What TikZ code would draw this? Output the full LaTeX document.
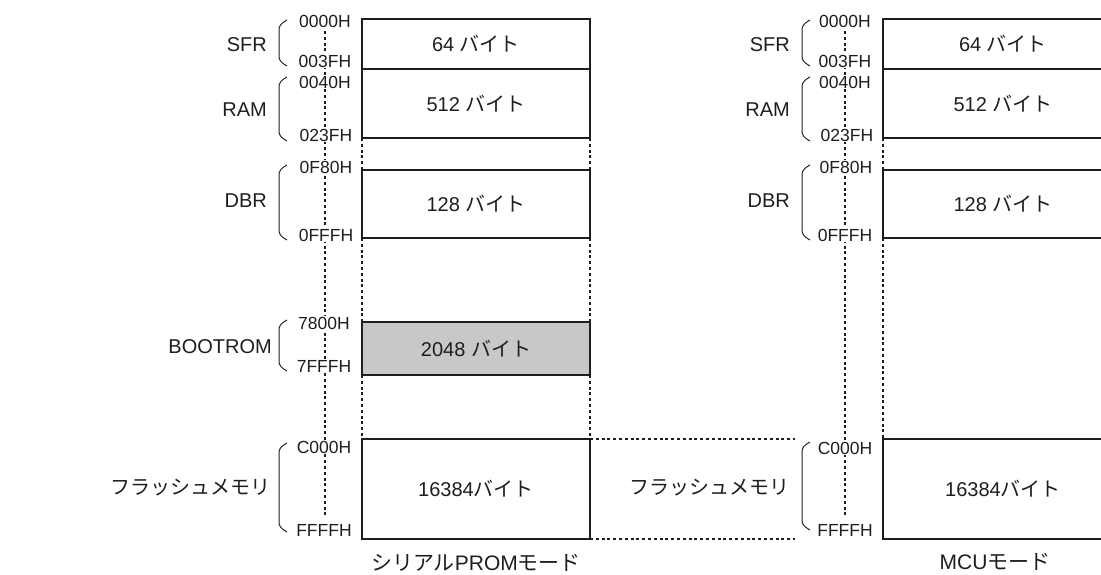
\documentclass[tikz,border=0pt]{standalone}
\usepackage{fontspec}
\setmainfont{Liberation Sans}
\newfontfamily\jp{Noto Sans CJK JP}
\definecolor{bootgray}{RGB}{200,200,202}
\definecolor{ink}{RGB}{30,30,30}
\newcommand\membrace[3]{\draw[bracestyle] (#1+8,#2) .. controls (#1+1,#2+4) and (#1,#2+6) .. (#1,#2+11) -- (#1,#3-11) .. controls (#1,#3-6) and (#1+1,#3-4) .. (#1+8,#3);}
\begin{document}
\begin{tikzpicture}[x=1pt,y=-1pt,
  membox/.style={draw=ink, line width=1.3pt, outer sep=0pt, minimum width=#1, inner sep=0pt, font=\fontsize{20}{22}\selectfont, text=ink},
  membox/.default=228pt,
  addr/.style={fill=white, inner sep=0.6pt, font=\fontsize{17.5}{18}\selectfont, text=ink},
  area/.style={anchor=east, inner sep=0pt, font=\fontsize{20}{22}\selectfont, text=ink},
  dotline/.style={draw=ink, line width=1.5pt, dash pattern=on 3pt off 2.8pt},
  bracestyle/.style={draw=ink, line width=1pt},
  caption/.style={font=\fontsize{21}{22}\selectfont, text=ink}]
\useasboundingbox (0,0) rectangle (1101,574);

% address dotted lines (behind labels)
\coordinate (aL1) at (325,31); \coordinate (aL2) at (325,516);
\coordinate (aR1) at (845,31); \coordinate (aR2) at (845,516);
\draw[dotline] (aL1) -- (aL2);
\draw[dotline] (aR1) -- (aR2);

% ---- left column: serial PROM mode ----
\node[membox, minimum height=50pt] (sfrL) at (476,44) {64 {\jp バイト}};
\node[membox, minimum height=69pt] (ramL) at (476,103.5) {512 {\jp バイト}};
\node[membox, minimum height=68pt] (dbrL) at (476,204) {128 {\jp バイト}};
\node[membox, minimum height=53pt, fill=bootgray] (bootL) at (476,348.5) {2048 {\jp バイト}};
\node[membox, minimum height=100pt] (flashL) at (476,489) {16384{\jp バイト}};

\draw[dotline] (ramL.south west) -- (dbrL.north west);
\draw[dotline] (ramL.south east) -- (dbrL.north east);
\draw[dotline] (dbrL.south west) -- (bootL.north west);
\draw[dotline] (dbrL.south east) -- (bootL.north east);
\draw[dotline] (bootL.south west) -- (flashL.north west);
\draw[dotline] (bootL.south east) -- (flashL.north east);

\node[addr] (l0000) at (325,21) {0000H};
\node[addr] (l003F) at (325,61) {003FH};
\node[addr] (l0040) at (325,82) {0040H};
\node[addr] (l023F) at (326,135) {023FH};
\node[addr] (l0F80) at (326,167) {0F80H};
\node[addr] (l0FFF) at (326,235) {0FFFH};
\node[addr] (l7800) at (324,323) {7800H};
\node[addr] (l7FFF) at (324,366) {7FFFH};
\node[addr] (lC000) at (324,447) {C000H};
\node[addr] (lFFFF) at (324,530) {FFFFH};

\membrace{279}{20}{66}
\membrace{279}{77}{141}
\membrace{279}{165}{240}
\membrace{279}{320}{371}
\membrace{279}{443}{532}

\node[area] (sfrLt) at (267,45) {SFR};
\node[area] (ramLt) at (267,110) {RAM};
\node[area] (dbrLt) at (267,201) {DBR};
\node[area] (bootLt) at (272,347) {BOOTROM};
\node[area] (flashLt) at (271,488) {\jp フラッシュメモリ};

\node[caption] (capL) at (476,563) {{\jp シリアル}PROM{\jp モード}};

% ---- right column: MCU mode ----
\node[membox=240pt, minimum height=50pt] (sfrR) at (1003,44) {64 {\jp バイト}};
\node[membox=240pt, minimum height=69pt] (ramR) at (1003,103.5) {512 {\jp バイト}};
\node[membox=240pt, minimum height=68pt] (dbrR) at (1003,204) {128 {\jp バイト}};
\node[membox=240pt, minimum height=100pt] (flashR) at (1003,489) {16384{\jp バイト}};

\draw[dotline] (ramR.south west) -- (dbrR.north west);
\draw[dotline] (dbrR.south west) -- (flashR.north west);

\node[addr] (r0000) at (845,21) {0000H};
\node[addr] (r003F) at (845,61) {003FH};
\node[addr] (r0040) at (845,82) {0040H};
\node[addr] (r023F) at (847,135) {023FH};
\node[addr] (r0F80) at (846,167) {0F80H};
\node[addr] (r0FFF) at (845,235) {0FFFH};
\node[addr] (rC000) at (845,448) {C000H};
\node[addr] (rFFFF) at (845,530) {FFFFH};

\membrace{802}{20}{66}
\membrace{802}{77}{141}
\membrace{802}{165}{240}
\membrace{802}{442}{530}

\node[area] (sfrRt) at (790,45) {SFR};
\node[area] (ramRt) at (790,110) {RAM};
\node[area] (dbrRt) at (790,201) {DBR};
\node[area] (flashRt) at (790,488) {\jp フラッシュメモリ};

\coordinate (dashTop) at (795,439);
\coordinate (dashBot) at (795,539);
\draw[dotline] (flashL.north east) -- (dashTop);
\draw[dotline] (flashL.south east) -- (dashBot);

\node[caption] (capR) at (995,562) {MCU{\jp モード}};
\end{tikzpicture}
\end{document}
